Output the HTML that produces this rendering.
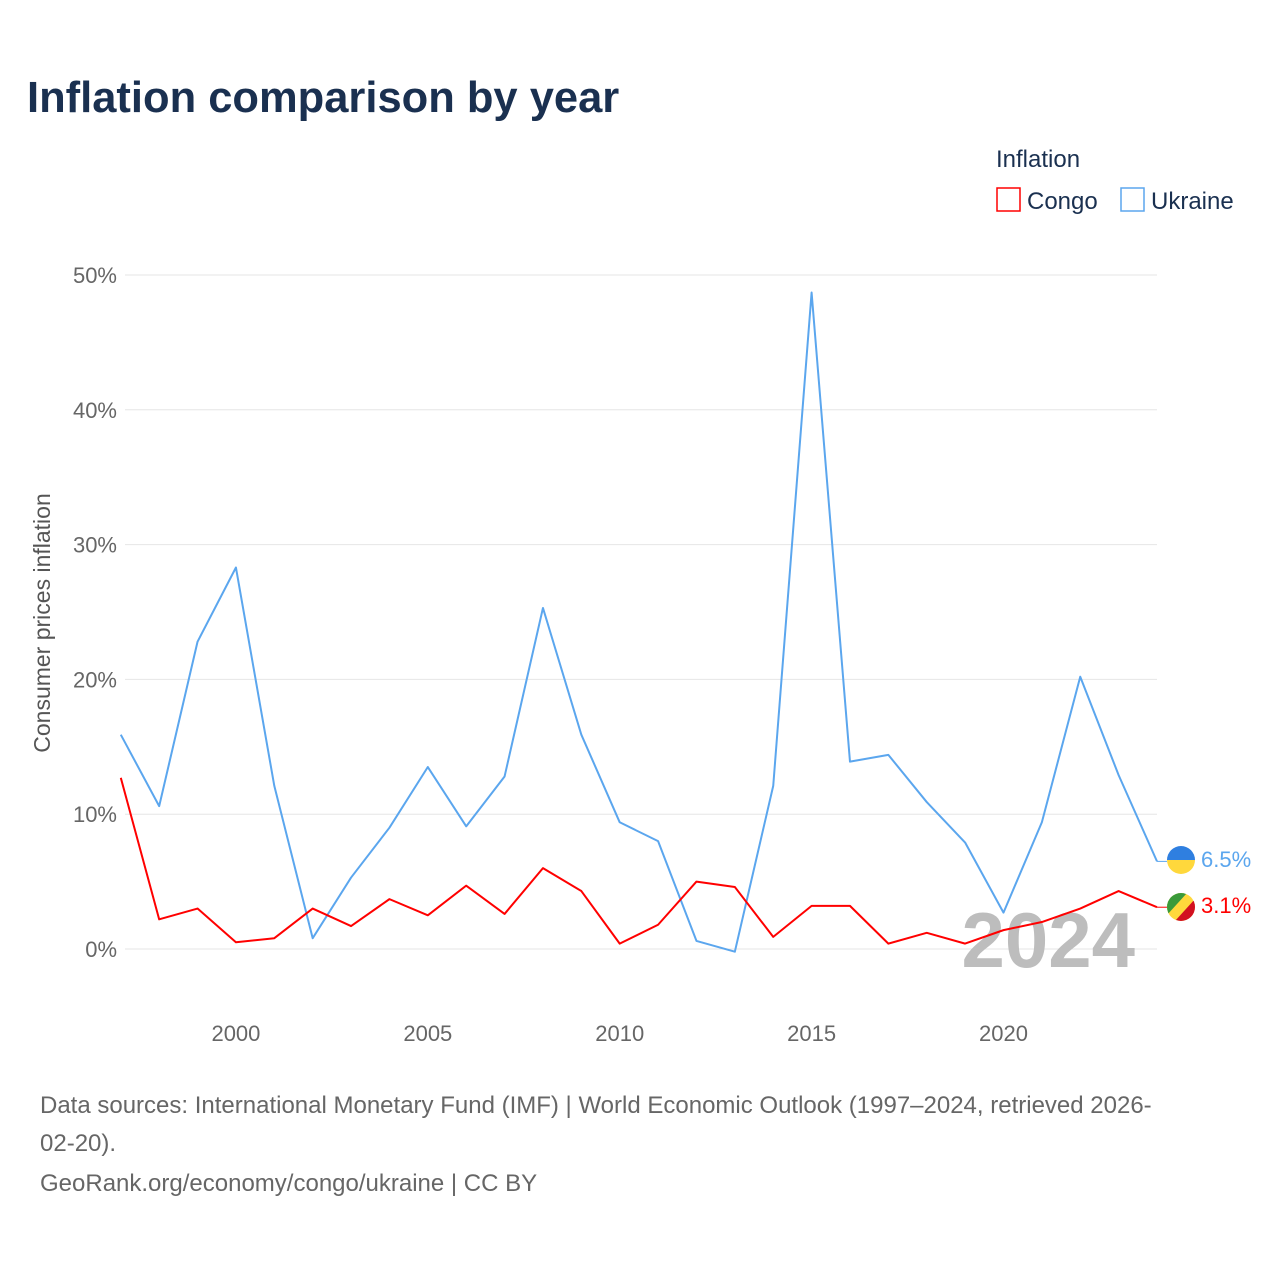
<!DOCTYPE html>
<html><head><meta charset="utf-8"><style>
body{margin:0;background:#fff;font-family:"Liberation Sans",sans-serif;}
svg{display:block}
</style></head><body>
<svg width="1280" height="1280" viewBox="0 0 1280 1280">
<text x="27" y="112" font-size="43.5" font-weight="bold" fill="#1a3050">Inflation comparison by year</text>
<text x="996" y="167" font-size="24" fill="#1a3050">Inflation</text>
<g><rect x="997" y="188" width="23" height="23" fill="none" stroke="#f00" stroke-width="1.5"/><text x="1027" y="209" font-size="24" fill="#1a3050">Congo</text></g>
<g><rect x="1121" y="188" width="23" height="23" fill="none" stroke="#5ba6ee" stroke-width="1.5"/><text x="1151" y="209" font-size="24" fill="#1a3050">Ukraine</text></g>
<g id="grid"></g>
<g id="yticks"></g>
<g id="xticks"></g>
<text transform="translate(50,623) rotate(-90)" text-anchor="middle" font-size="23" fill="#555">Consumer prices inflation</text>
<text x="1135" y="967" text-anchor="end" font-size="78" font-weight="bold" fill="#bdbdbd">2024</text>
<g id="series"></g>
<g><clipPath id="c1"><circle cx="1181" cy="860" r="14"/></clipPath><g clip-path="url(#c1)"><rect x="1167" y="846" width="28" height="14" fill="#2f7fe0"/><rect x="1167" y="860" width="28" height="14" fill="#ffd83c"/></g></g>
<g><clipPath id="c2"><circle cx="1181" cy="907" r="14"/></clipPath><g clip-path="url(#c2)"><rect x="1167" y="893" width="28" height="28" fill="#ffd83c"/><polygon points="1167,893 1187,893 1167,915" fill="#3a9a3a"/><polygon points="1195,899 1195,921 1175,921" fill="#d21020"/></g></g>
<text x="1201" y="867" font-size="22" fill="#5ba6ee">6.5%</text>
<text x="1201" y="913" font-size="22" fill="#f00">3.1%</text>
<text font-size="24" fill="#666"><tspan x="40" y="1113">Data sources: International Monetary Fund (IMF) | World Economic Outlook (1997–2024, retrieved 2026-</tspan><tspan x="40" y="1151">02-20).</tspan><tspan x="40" y="1191">GeoRank.org/economy/congo/ukraine | CC BY</tspan></text>
</svg>
<script>
const years=[1997,1998,1999,2000,2001,2002,2003,2004,2005,2006,2007,2008,2009,2010,2011,2012,2013,2014,2015,2016,2017,2018,2019,2020,2021,2022,2023,2024];
const ukraine=[15.9,10.6,22.8,28.3,12.1,0.8,5.3,9.0,13.5,9.1,12.8,25.3,15.9,9.4,8.0,0.6,-0.2,12.1,48.7,13.9,14.4,10.9,7.9,2.7,9.4,20.2,12.9,6.5];
const congo=[12.7,2.2,3.0,0.5,0.8,3.0,1.7,3.7,2.5,4.7,2.6,6.0,4.3,0.4,1.8,5.0,4.6,0.9,3.2,3.2,0.4,1.2,0.4,1.4,2.0,3.0,4.3,3.1];
const yTicks=[0,10,20,30,40,50];
const xTicks=[2000,2005,2010,2015,2020];
const NS="http://www.w3.org/2000/svg";
function xs(y){return 120.8+(y-1997)*(1157-120.8)/27;}
function ys(v){return 949-v*13.48;}
function mk(t,a,p){const e=document.createElementNS(NS,t);for(const k in a)e.setAttribute(k,a[k]);p.appendChild(e);return e;}
const grid=document.getElementById('grid'),yt=document.getElementById('yticks'),xt=document.getElementById('xticks'),ser=document.getElementById('series');
yTicks.forEach(v=>{
  const l=mk('line',{x1:125,x2:1157,y1:ys(v),y2:ys(v),stroke:'#e6e6e6','stroke-width':1},grid);
  
  
  const t=mk('text',{x:117,y:ys(v)+8,'text-anchor':'end','font-size':22,fill:'#666'},yt);
  t.textContent=v+'%';
  
  
});
xTicks.forEach(v=>{
  const t=mk('text',{x:xs(v),y:1041,'text-anchor':'middle','font-size':22,fill:'#666'},xt);
  t.textContent=v;
  
  
});
function line(arr,color,name){
  const p=mk('polyline',{points:arr.map((v,i)=>xs(years[i])+','+ys(v)).join(' '),fill:'none',stroke:color,'stroke-width':2,'stroke-linejoin':'round'},ser);
  
  
  const last=arr[arr.length-1];
  const c=mk('line',{x1:xs(2024),x2:1167,y1:ys(last),y2:ys(last),stroke:color,'stroke-width':1},ser);
  
  
}
line(ukraine,'#5ba6ee','ukraine-line');
line(congo,'#f00','congo-line');
</script>
</body></html>
